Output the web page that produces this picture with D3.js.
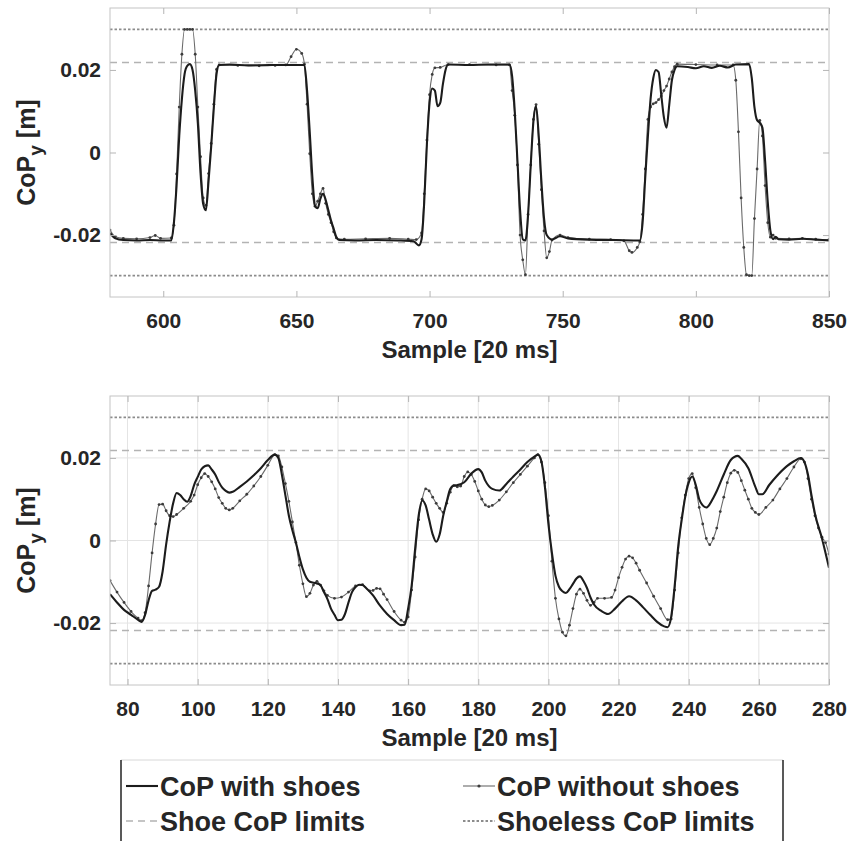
<!DOCTYPE html>
<html lang="en">
<head>
<meta charset="UTF-8">
<title>CoP with and without shoes</title>
<script src="https://d3js.org/d3.v7.min.js"></script>
<style>
    body { margin: 0; background: #fff; }
    svg text { font-family: "Liberation Sans", Arial, sans-serif; font-weight: bold; fill: #262626; }
</style>
</head>
<body>
<svg id="fig" width="849" height="841"></svg>
<script>
// --- data: [sample, CoP_y in m] ---
const topShoes = [[580,-0.0195],[582,-0.0208],[585,-0.0212],[590,-0.0213],[595,-0.0212],[600,-0.0213],[603,-0.0213],[604,-0.0170],[605,-0.0080],[606,0.0040],[607,0.0130],[608,0.0190],[609,0.0210],[610,0.0214],[611,0.0200],[612,0.0150],[613,0.0070],[614,-0.0050],[615,-0.0125],[616,-0.0140],[617,-0.0070],[618,0.0015],[619,0.0110],[620,0.0190],[621,0.0212],[625,0.0213],[632,0.0211],[640,0.0212],[648,0.0212],[653,0.0212],[654,0.0150],[655,0.0050],[656,-0.0060],[657,-0.0130],[658,-0.0135],[659,-0.0112],[660,-0.0100],[661,-0.0115],[662,-0.0140],[663,-0.0165],[664,-0.0185],[665,-0.0205],[666,-0.0212],[672,-0.0213],[680,-0.0212],[688,-0.0213],[694,-0.0215],[696,-0.0225],[697,-0.0210],[698,-0.0120],[699,0.0020],[700,0.0120],[701,0.0155],[702,0.0150],[703,0.0112],[704,0.0120],[705,0.0165],[706,0.0200],[707,0.0213],[715,0.0212],[722,0.0213],[730,0.0213],[731,0.0185],[732,0.0100],[733,-0.0020],[734,-0.0140],[735,-0.0210],[736,-0.0213],[737,-0.0150],[738,-0.0030],[739,0.0075],[740,0.0112],[741,0.0040],[742,-0.0070],[743,-0.0160],[744,-0.0200],[746,-0.0211],[749,-0.0203],[752,-0.0208],[760,-0.0211],[770,-0.0212],[779,-0.0213],[780,-0.0170],[781,-0.0060],[782,0.0040],[783,0.0130],[784,0.0180],[785,0.0200],[786,0.0195],[787,0.0140],[788,0.0085],[789,0.0060],[790,0.0115],[791,0.0175],[792,0.0200],[793,0.0209],[797,0.0207],[800,0.0204],[803,0.0209],[806,0.0205],[809,0.0210],[812,0.0206],[815,0.0213],[820,0.0214],[821,0.0180],[822,0.0110],[823,0.0078],[824,0.0072],[825,0.0060],[826,-0.0020],[827,-0.0120],[828,-0.0190],[829,-0.0210],[830,-0.0204],[831,-0.0210],[835,-0.0211],[840,-0.0209],[845,-0.0211],[850,-0.0213]];

const topBare = [[580,-0.0188],[582,-0.0204],[585,-0.0208],[590,-0.0209],[595,-0.0206],[597,-0.0201],[599,-0.0208],[603,-0.0207],[604,-0.0176],[605,-0.0052],[606,0.0110],[607,0.0238],[608,0.0298],[609,0.0298],[610,0.0298],[611,0.0298],[612,0.0238],[613,0.0110],[614,-0.0010],[615,-0.0110],[616,-0.0128],[617,-0.0051],[618,0.0022],[619,0.0117],[620,0.0201],[621,0.0212],[628,0.0211],[636,0.0210],[642,0.0211],[646,0.0212],[648,0.0232],[650,0.0250],[652,0.0240],[653,0.0214],[654,0.0117],[655,-0.0003],[656,-0.0100],[657,-0.0130],[658,-0.0118],[659,-0.0100],[660,-0.0087],[661,-0.0123],[662,-0.0150],[663,-0.0170],[664,-0.0192],[665,-0.0207],[668,-0.0210],[676,-0.0209],[685,-0.0208],[692,-0.0210],[695,-0.0211],[697,-0.0195],[698,-0.0100],[699,0.0030],[700,0.0140],[701,0.0189],[702,0.0205],[704,0.0206],[707,0.0213],[715,0.0213],[725,0.0212],[730,0.0212],[731,0.0150],[732,0.0090],[733,-0.0030],[734,-0.0200],[735,-0.0260],[736,-0.0296],[737,-0.0150],[738,-0.0030],[739,0.0080],[740,0.0116],[741,0.0020],[742,-0.0090],[743,-0.0190],[744,-0.0255],[745,-0.0240],[746,-0.0212],[749,-0.0200],[752,-0.0206],[760,-0.0210],[768,-0.0211],[773,-0.0214],[775,-0.0238],[776,-0.0242],[778,-0.0230],[779,-0.0216],[780,-0.0150],[781,-0.0040],[782,0.0080],[783,0.0110],[784,0.0118],[785,0.0121],[786,0.0128],[787,0.0137],[788,0.0150],[789,0.0161],[790,0.0178],[791,0.0195],[792,0.0208],[793,0.0214],[800,0.0213],[808,0.0212],[814,0.0212],[815,0.0175],[816,0.0050],[817,-0.0110],[818,-0.0230],[819,-0.0296],[820,-0.0298],[821,-0.0298],[822,-0.0160],[823,-0.0040],[824,0.0078],[825,0.0040],[826,-0.0080],[827,-0.0170],[828,-0.0205],[829,-0.0200],[830,-0.0208],[835,-0.0209],[840,-0.0208],[845,-0.0210],[850,-0.0211]];

const botShoes = [[75,-0.0130],[77,-0.0150],[79,-0.0168],[81,-0.0180],[83,-0.0192],[84,-0.0197],[85,-0.0180],[86,-0.0145],[87,-0.0122],[88,-0.0119],[89,-0.0112],[90,-0.0075],[91,-0.0010],[92,0.0045],[93,0.0090],[94,0.0115],[95,0.0110],[96,0.0100],[97,0.0094],[98,0.0108],[99,0.0135],[100,0.0154],[101,0.0172],[102,0.0180],[103,0.0182],[104,0.0172],[105,0.0160],[106,0.0142],[107,0.0128],[108,0.0120],[109,0.0116],[110,0.0118],[112,0.0130],[114,0.0143],[116,0.0158],[118,0.0175],[120,0.0195],[122,0.0208],[123,0.0200],[124,0.0160],[125,0.0110],[126,0.0060],[127,0.0025],[128,-0.0005],[129,-0.0040],[130,-0.0070],[131,-0.0090],[132,-0.0100],[134,-0.0104],[135,-0.0108],[136,-0.0125],[137,-0.0142],[138,-0.0165],[139,-0.0180],[140,-0.0193],[141,-0.0192],[142,-0.0178],[143,-0.0150],[144,-0.0125],[145,-0.0113],[146,-0.0107],[147,-0.0108],[148,-0.0115],[150,-0.0133],[152,-0.0158],[154,-0.0178],[156,-0.0193],[158,-0.0205],[159,-0.0204],[160,-0.0165],[161,-0.0110],[162,-0.0020],[163,0.0060],[164,0.0097],[165,0.0085],[166,0.0050],[167,0.0015],[168,-0.0003],[169,0.0015],[170,0.0060],[171,0.0094],[172,0.0125],[173,0.0133],[174,0.0134],[176,0.0141],[178,0.0162],[180,0.0173],[181,0.0165],[182,0.0145],[184,0.0125],[186,0.0121],[188,0.0137],[190,0.0155],[192,0.0172],[194,0.0190],[196,0.0203],[197,0.0208],[198,0.0192],[199,0.0130],[200,0.0040],[201,-0.0030],[202,-0.0085],[203,-0.0112],[204,-0.0123],[205,-0.0127],[206,-0.0118],[207,-0.0105],[208,-0.0092],[209,-0.0087],[210,-0.0098],[211,-0.0115],[212,-0.0138],[213,-0.0155],[215,-0.0170],[217,-0.0178],[219,-0.0165],[221,-0.0147],[223,-0.0135],[225,-0.0145],[227,-0.0162],[229,-0.0180],[231,-0.0197],[233,-0.0208],[234,-0.0210],[235,-0.0185],[236,-0.0110],[237,-0.0015],[238,0.0050],[239,0.0105],[240,0.0140],[241,0.0155],[242,0.0135],[243,0.0100],[244,0.0085],[245,0.0080],[246,0.0088],[247,0.0103],[248,0.0120],[250,0.0160],[252,0.0195],[254,0.0205],[255,0.0198],[257,0.0175],[259,0.0130],[260,0.0112],[261,0.0112],[263,0.0135],[265,0.0155],[268,0.0180],[270,0.0192],[272,0.0200],[273,0.0190],[274,0.0160],[275,0.0110],[276,0.0065],[278,0.0005],[280,-0.0066]];

const botBare = [[75,-0.0097],[77,-0.0125],[79,-0.0150],[81,-0.0172],[83,-0.0188],[84,-0.0194],[85,-0.0175],[86,-0.0110],[87,-0.0030],[88,0.0040],[89,0.0087],[90,0.0088],[91,0.0072],[92,0.0060],[93,0.0058],[94,0.0063],[96,0.0078],[98,0.0095],[99,0.0110],[100,0.0135],[101,0.0152],[102,0.0162],[103,0.0155],[104,0.0142],[105,0.0125],[106,0.0104],[107,0.0090],[108,0.0078],[109,0.0074],[110,0.0078],[112,0.0096],[114,0.0112],[116,0.0132],[118,0.0155],[120,0.0182],[122,0.0208],[123,0.0205],[124,0.0178],[125,0.0138],[126,0.0095],[127,0.0045],[128,-0.0005],[129,-0.0060],[130,-0.0105],[131,-0.0136],[132,-0.0128],[133,-0.0108],[134,-0.0099],[135,-0.0108],[136,-0.0122],[137,-0.0133],[139,-0.0140],[141,-0.0137],[143,-0.0125],[145,-0.0110],[147,-0.0107],[149,-0.0122],[150,-0.0121],[151,-0.0116],[152,-0.0117],[153,-0.0130],[154,-0.0143],[156,-0.0172],[158,-0.0193],[159,-0.0198],[160,-0.0185],[161,-0.0120],[162,-0.0040],[163,0.0050],[164,0.0100],[165,0.0125],[166,0.0120],[167,0.0105],[168,0.0090],[169,0.0078],[170,0.0068],[171,0.0090],[172,0.0117],[173,0.0133],[174,0.0130],[175,0.0132],[176,0.0155],[177,0.0166],[178,0.0160],[179,0.0143],[180,0.0120],[181,0.0100],[182,0.0086],[183,0.0082],[184,0.0085],[186,0.0098],[188,0.0118],[190,0.0140],[192,0.0160],[194,0.0180],[196,0.0200],[197,0.0208],[198,0.0190],[199,0.0140],[200,0.0060],[201,-0.0050],[202,-0.0140],[203,-0.0190],[204,-0.0222],[205,-0.0231],[206,-0.0205],[207,-0.0165],[208,-0.0130],[209,-0.0118],[210,-0.0128],[211,-0.0145],[212,-0.0157],[213,-0.0150],[214,-0.0140],[216,-0.0140],[218,-0.0138],[219,-0.0120],[220,-0.0090],[221,-0.0065],[222,-0.0045],[223,-0.0038],[224,-0.0042],[225,-0.0055],[226,-0.0072],[228,-0.0103],[230,-0.0135],[232,-0.0165],[234,-0.0192],[235,-0.0190],[236,-0.0120],[237,-0.0030],[238,0.0055],[239,0.0110],[240,0.0150],[241,0.0162],[242,0.0128],[243,0.0080],[244,0.0040],[245,0.0005],[246,-0.0010],[247,0.0005],[248,0.0030],[249,0.0070],[250,0.0105],[251,0.0140],[252,0.0163],[253,0.0170],[254,0.0165],[255,0.0145],[256,0.0122],[257,0.0100],[258,0.0078],[259,0.0068],[260,0.0063],[262,0.0080],[264,0.0098],[266,0.0125],[268,0.0150],[270,0.0178],[272,0.0198],[273,0.0190],[274,0.0150],[275,0.0100],[276,0.0060],[277,0.0030],[278,0.0008],[279,-0.0005],[280,-0.0033]];

const shoeLimits = [-0.0218, 0.0218];
const shoelessLimits = [-0.0298, 0.0298];
const yTicks = [-0.02, 0, 0.02];
const topXTicks = [600, 650, 700, 750, 800, 850];
const botXTicks = [80, 100, 120, 140, 160, 180, 200, 220, 240, 260, 280];
const legendLabels = ["CoP with shoes", "CoP without shoes", "Shoe CoP limits", "Shoeless CoP limits"];

const svg = d3.select('#fig'),
    W = 719, H = 289, left = 110,
    yDomain = [-0.035, 0.035];

const styles = {
    shoes: {stroke: '#1c1c1c', width: 2.1},
    bare: {stroke: '#6a6a6a', width: 1.1, dot: '#3c3c3c'},
    shoe: {stroke: '#b3b3b3', width: 1.3, dash: '7,5'},
    shoeless: {stroke: '#8c8c8c', width: 1.8, dash: '2.5,2'}
};

function panel(top, xDomain, xTicks, grid, shoes, bare, id) {
    let x = d3.scaleLinear().domain(xDomain).range([0, W]),
        y = d3.scaleLinear().domain(yDomain).range([H, 0]),
        g = svg.append('g').attr('transform', `translate(${left},${top})`);

    g.append('clipPath').attr('id', 'clip' + id)
        .append('rect').attr('width', W).attr('height', H);

    if (grid) {
        g.append('g').selectAll('line').data(xTicks).enter().append('line')
            .attr('x1', d => x(d)).attr('x2', d => x(d)).attr('y1', 0).attr('y2', H)
            .attr('stroke', '#e4e4e4');
        g.append('g').selectAll('line').data(yTicks).enter().append('line')
            .attr('y1', d => y(d)).attr('y2', d => y(d)).attr('x1', 0).attr('x2', W)
            .attr('stroke', '#e4e4e4');
    }

    // limit lines
    [[shoelessLimits, styles.shoeless], [shoeLimits, styles.shoe]].forEach(([vals, st]) => {
        g.append('g').selectAll('line').data(vals).enter().append('line')
            .attr('x1', 0).attr('x2', W)
            .attr('y1', d => y(d)).attr('y2', d => y(d))
            .attr('stroke', st.stroke).attr('stroke-width', st.width)
            .attr('stroke-dasharray', st.dash);
    });

    let line = d3.line().x(d => x(d[0])).y(d => y(d[1])).curve(d3.curveMonotoneX),
        plot = g.append('g').attr('clip-path', `url(#clip${id})`);

    plot.append('path').datum(bare)
        .attr('fill', 'none').attr('stroke', styles.bare.stroke)
        .attr('stroke-width', styles.bare.width).attr('d', line);
    plot.append('g').selectAll('circle').data(bare).enter().append('circle')
        .attr('cx', d => x(d[0])).attr('cy', d => y(d[1])).attr('r', 1.4)
        .attr('fill', styles.bare.dot);
    plot.append('path').datum(shoes)
        .attr('fill', 'none').attr('stroke', styles.shoes.stroke)
        .attr('stroke-width', styles.shoes.width).attr('d', line);

    // axes box + inward ticks
    g.append('rect').attr('width', W).attr('height', H)
        .attr('fill', 'none').attr('stroke', '#c4c4c4');

    let fmt = d => d === 0 ? '0' : d.toFixed(2);
    let ax = [
        g.append('g').attr('transform', `translate(0,${H})`)
            .call(d3.axisBottom(x).tickValues(xTicks).tickSizeInner(-6).tickSizeOuter(0).tickPadding(16)),
        g.append('g').call(d3.axisTop(x).tickValues(xTicks).tickSizeInner(-6).tickSizeOuter(0).tickFormat('')),
        g.append('g').call(d3.axisLeft(y).tickValues(yTicks).tickSizeInner(-6).tickSizeOuter(0).tickPadding(9).tickFormat(fmt)),
        g.append('g').attr('transform', `translate(${W},0)`)
            .call(d3.axisRight(y).tickValues(yTicks).tickSizeInner(-6).tickSizeOuter(0).tickFormat(''))
    ];
    ax.forEach(a => {
        a.select('.domain').remove();
        a.selectAll('.tick line').attr('stroke', '#b5b5b5');
        a.selectAll('.tick text').attr('font-size', 21).attr('fill', '#262626');
    });

    // axis titles
    g.append('text').attr('x', W / 2).attr('y', H + 61)
        .attr('text-anchor', 'middle').attr('font-size', 24)
        .text('Sample [20 ms]');
    let yl = g.append('text').attr('transform', `translate(${35 - left},${H / 2}) rotate(-90)`)
        .attr('text-anchor', 'middle').attr('font-size', 25);
    yl.append('tspan').text('CoP');
    yl.append('tspan').attr('font-size', 19).attr('dy', 7).text('y');
    yl.append('tspan').attr('dy', -7).text(' [m]');
}

panel(8, [580, 850], topXTicks, false, topShoes, topBare, 'top');
panel(396, [75, 280], botXTicks, true, botShoes, botBare, 'bot');

// legend
let lg = svg.append('g');
lg.append('line').attr('x1', 121).attr('x2', 783).attr('y1', 760).attr('y2', 760).attr('stroke', '#d8d8d8');
lg.append('line').attr('x1', 121).attr('x2', 121).attr('y1', 760).attr('y2', 845).attr('stroke', '#222').attr('stroke-width', 1.5);
lg.append('line').attr('x1', 783).attr('x2', 783).attr('y1', 760).attr('y2', 845).attr('stroke', '#222').attr('stroke-width', 1.5);

let cols = [126, 463], rows = [786, 821],
    legStyles = [styles.shoes, styles.bare, styles.shoe, styles.shoeless];
legendLabels.forEach((lab, i) => {
    let cx = cols[i % 2], cy = rows[Math.floor(i / 2)], st = legStyles[i];
    lg.append('line').attr('x1', cx).attr('x2', cx + 32).attr('y1', cy).attr('y2', cy)
        .attr('stroke', st.stroke).attr('stroke-width', st.width)
        .attr('stroke-dasharray', st.dash || null);
    if (st.dot) lg.append('circle').attr('cx', cx + 16).attr('cy', cy).attr('r', 1.6).attr('fill', st.dot);
    lg.append('text').attr('x', cx + 34).attr('y', cy + 10)
        .attr('font-size', 27).text(lab);
});
</script>
</body>
</html>
